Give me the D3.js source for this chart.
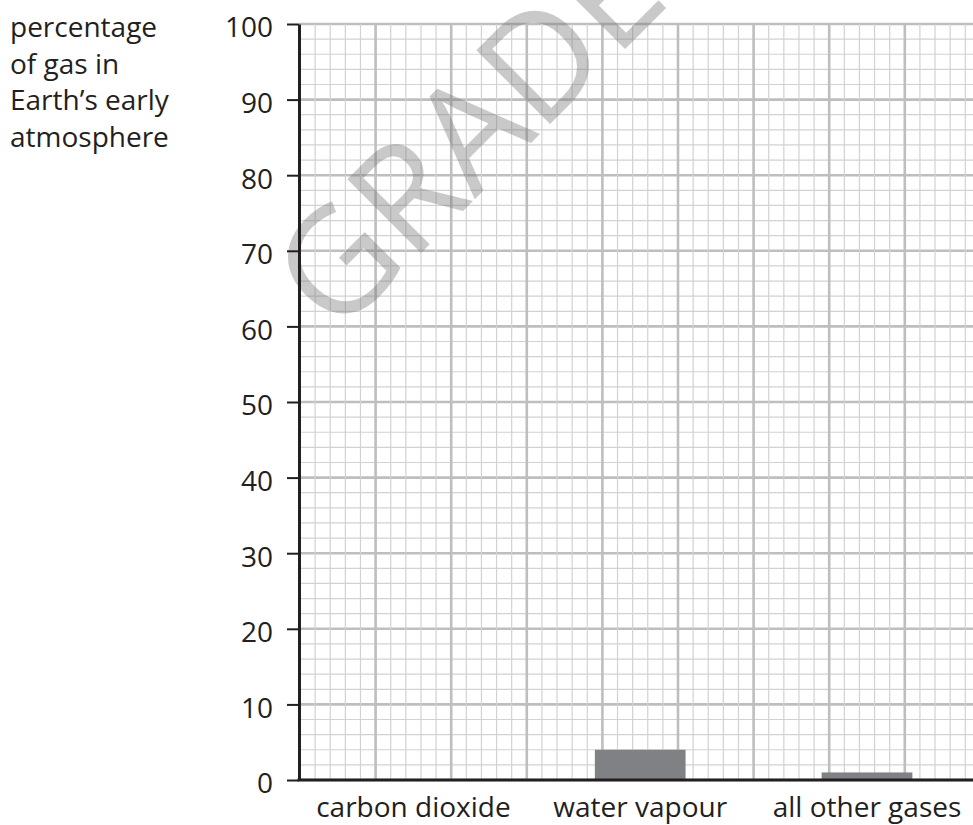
<!DOCTYPE html>
<meta charset="utf-8">
<html>
<head>
  <title>Gases in Earth's early atmosphere</title>
  <style>
    body { margin: 0; background: #fff; }
    svg { display: block; font-family: "Open Sans", sans-serif; }
    .axis text { font-family: "Open Sans", sans-serif; font-size: 28px; fill: #231f20; }
  </style>
</head>
<body>
<svg id="chart" width="973" height="825"></svg>

<script src="https://d3js.org/d3.v7.min.js"></script>
<script>

// data (carbon dioxide bar left blank)
const categories = ["carbon dioxide", "water vapour", "all other gases"];
const values = [null, 4, 1];
const yTicks = [0, 10, 20, 30, 40, 50, 60, 70, 80, 90, 100];
const titleLines = ["percentage", "of gas in", "Earth\u2019s early", "atmosphere"];

const svg = d3.select("#chart"),
      width = +svg.attr("width");

const x0 = 299, yTop = 24, yBottom = 780;

const y = d3.scaleLinear().domain([0, 100]).range([yBottom, yTop]);
const cell = y(0) - y(2);           // one small square of the paper
const nCols = 45;

const x = d3.scaleBand()
  .domain(categories)
  .range([x0 + 1, x0 + 1 + nCols * cell])
  .paddingInner(0.6)
  .paddingOuter(0.3);

// --- graph paper ---
const grid = svg.append("g");

grid.selectAll("line.h")
  .data(d3.range(0, 101, 2))
  .join("line")
  .attr("class", "h")
  .attr("x1", x0)
  .attr("x2", width)
  .attr("y1", d => y(d))
  .attr("y2", d => y(d))
  .attr("stroke", d => d % 10 === 0 ? "#bcbec0" : "#d1d2d4")
  .attr("stroke-width", d => d % 10 === 0 ? 2.6 : 1.2);

grid.selectAll("line.v")
  .data(d3.range(1, nCols + 1))
  .join("line")
  .attr("class", "v")
  .attr("x1", k => x0 + 1 + k * cell)
  .attr("x2", k => x0 + 1 + k * cell)
  .attr("y1", yTop)
  .attr("y2", yBottom)
  .attr("stroke", k => k % 5 === 0 ? "#bcbec0" : "#d1d2d4")
  .attr("stroke-width", k => k % 5 === 0 ? 2.6 : 1.2);

// --- bars ---
svg.append("g")
  .selectAll("rect")
  .data(categories.map((c, i) => ({ cat: c, value: values[i] })).filter(d => d.value != null))
  .join("rect")
  .attr("x", d => x(d.cat))
  .attr("width", x.bandwidth())
  .attr("y", d => y(d.value))
  .attr("height", d => y(0) - y(d.value))
  .attr("fill", "#808184");

// --- watermark ---
svg.append("text")
  .attr("transform", "translate(336,338) rotate(-45)")
  .attr("font-size", 146)
  .attr("fill", "#787878")
  .attr("fill-opacity", 0.4)
  .text("GRADED");

// --- axes ---
const yAxis = svg.append("g")
  .attr("class", "axis")
  .attr("transform", `translate(${x0},0)`)
  .call(d3.axisLeft(y).tickValues(yTicks).tickSize(12).tickSizeOuter(0).tickPadding(14));

yAxis.select(".domain").attr("stroke", "#231f20").attr("stroke-width", 3);
yAxis.selectAll(".tick line").attr("stroke", "#231f20").attr("stroke-width", 2);
yAxis.selectAll(".tick text").attr("dy", "0.46em");

const xAxis = svg.append("g")
  .attr("class", "axis")
  .attr("transform", `translate(0,${yBottom})`)
  .call(d3.axisBottom(x).tickSize(0).tickSizeOuter(0).tickPadding(17));

xAxis.select(".domain")
  .attr("d", `M${x0 - 1.5},0H${width}`)
  .attr("stroke", "#231f20")
  .attr("stroke-width", 3);

// --- y title ---
svg.append("text")
  .attr("class", "axis")
  .attr("x", 10)
  .attr("y", 37)
  .attr("font-size", 28)
  .attr("fill", "#231f20")
  .selectAll("tspan")
  .data(titleLines)
  .join("tspan")
  .attr("x", 10)
  .attr("dy", (d, i) => i === 0 ? 0 : 36.7)
  .text(d => d);

</script>
</body>
</html>
